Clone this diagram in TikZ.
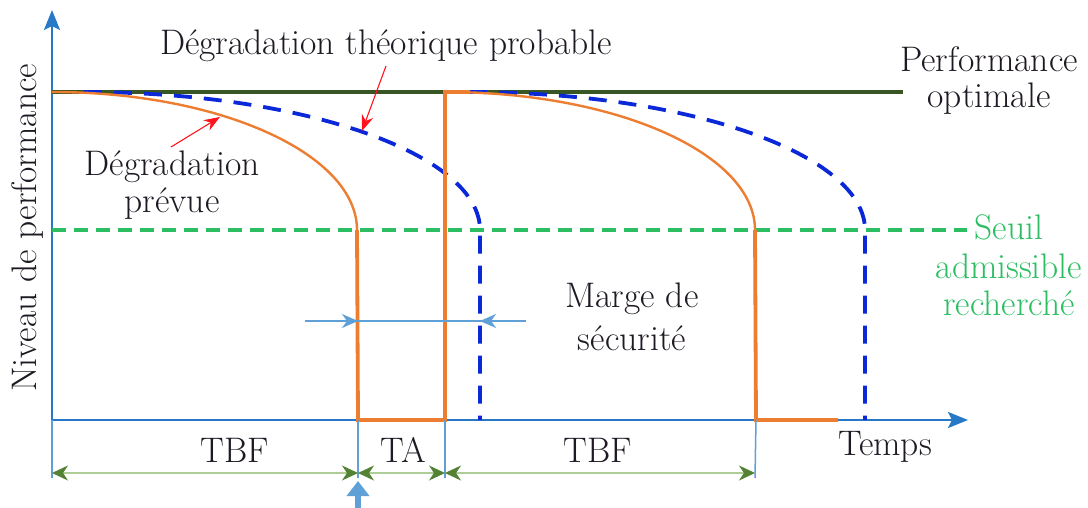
\documentclass[tikz,border=0pt]{standalone}
\usepackage{fontspec}
\usetikzlibrary{arrows.meta}
\definecolor{axblue}{RGB}{40,120,200}
\definecolor{lblue}{RGB}{95,160,215}
\definecolor{orng}{RGB}{237,125,49}
\definecolor{dblue}{RGB}{10,40,215}
\definecolor{dgreen}{RGB}{55,86,35}
\definecolor{thgreen}{RGB}{45,190,100}
\definecolor{dimgreen}{RGB}{84,130,53}
\definecolor{dimline}{RGB}{175,205,150}
\definecolor{txt}{RGB}{30,25,35}
\definecolor{redarr}{RGB}{255,20,30}
\begin{document}
\begin{tikzpicture}[x=1pt,y=-1pt,
  lbl/.style={inner sep=0pt,anchor=base,text=txt,font=\fontsize{35.5}{40}\selectfont},
  axisline/.style={draw=axblue,line width=2.6pt},
  tick/.style={draw=lblue,line width=1.5pt},
  curveo/.style={draw=orng,line width=2.4pt},
  recto/.style={draw=orng,line width=3.8pt},
  theo/.style={draw=dblue,line width=3.8pt,dash pattern=on 18pt off 12pt},
  seuil/.style={draw=thgreen,line width=3.2pt,dash pattern=on 14pt off 8pt},
  dimarr/.style={draw=dimline,line width=1.4pt,{Stealth[length=16pt,width=15pt,inset=5pt,color=dimgreen]}-{Stealth[length=16pt,width=15pt,inset=5pt,color=dimgreen]}},
  margarr/.style={draw=lblue,line width=1.6pt,-{Stealth[length=16pt,width=14pt,inset=5pt]}},
  redarrow/.style={draw=redarr,line width=1.1pt,-{Stealth[length=16pt,width=12pt]}}
]
\useasboundingbox (0,0) rectangle (1088,508);
% axes
\coordinate (O) at (52,420);
\coordinate (Ytop) at (52,10);
\coordinate (Xend) at (968,420);
\draw[axisline,-{Stealth[length=20pt,width=16pt,inset=4pt]}] (O) -- (Ytop);
\draw[axisline,-{Stealth[length=20pt,width=16pt,inset=4pt]}] (O) -- (Xend);
% optimal performance
\coordinate (opL) at (52,92);
\coordinate (opR) at (903,92);
\draw[draw=dgreen,line width=3.2pt] (opL) -- (opR);
% threshold
\coordinate (thL) at (52,230);
\coordinate (thR) at (967,230);
\draw[seuil] (thL) -- (thR);
% theoretical degradations (blue dashed)
\coordinate (b1s) at (84,92);
\coordinate (b1e) at (480,230);
\coordinate (b1b) at (480,420);
\draw[theo] (b1s) .. controls (303,92) and (480,154) .. (b1e) -- (b1b);
\coordinate (b2s) at (469,92);
\coordinate (b2e) at (865,230);
\coordinate (b2b) at (865,420);
\draw[theo] (b2s) .. controls (688,92) and (865,154) .. (b2e) -- (b2b);
% planned degradation (orange)
\coordinate (o1s) at (52,92);
\coordinate (o1e) at (357,230);
\coordinate (o1b) at (358,420);
\coordinate (o1r) at (445,420);
\coordinate (o2s) at (445,92);
\coordinate (o2e) at (755,230);
\coordinate (o2b) at (756,420);
\coordinate (o2r) at (838,420);
\draw[curveo] (o1s) .. controls (220,92) and (357,154) .. (o1e);
\draw[recto] (o1e) -- (o1b) -- (o1r) -- (o2s) -- (470,92);
\draw[curveo] (o2s) .. controls (617,92) and (755,154) .. (o2e);
\draw[recto] (o2e) -- (o2b) -- (o2r);
% safety margin
\coordinate (mL) at (305,321);
\coordinate (mR) at (526,321);
\coordinate (mA) at (358,321);
\coordinate (mB) at (480,321);
\draw[draw=lblue,line width=1.6pt] (mL) -- (mR);
\draw[margarr] (mL) -- (mA);
\draw[margarr] (mR) -- (mB);
\node[lbl] (marge1) at (632,307) {Marge de};
\node[lbl] (marge2) at (632,350) {sécurité};
% ticks below the axis
\coordinate (t0) at (52,478);
\coordinate (t1) at (358,478);
\coordinate (t2) at (445,478);
\coordinate (t3) at (755,478);
\draw[tick] (O) -- (t0);
\draw[tick] (o1b) -- (t1);
\draw[tick] (o1r) -- (t2);
\draw[tick] (o2b) -- (t3);
% dimension arrows
\coordinate (d0) at (52,473);
\coordinate (d1) at (358,473);
\coordinate (d2) at (445,473);
\coordinate (d3) at (755,473);
\draw[dimarr] (d0) -- (d1);
\draw[dimarr] (d1) -- (d2);
\draw[dimarr] (d2) -- (d3);
\node[lbl] (tbf1) at (235,462) {TBF};
\node[lbl] (ta) at (403,462) {TA};
\node[lbl] (tbf2) at (598,462) {TBF};
\node[lbl] (temps) at (885,455) {Temps};
% intervention arrow
\coordinate (upS) at (358,512);
\coordinate (upE) at (358,481);
\draw[draw=lblue,line width=6pt,-{Triangle[length=15pt,width=22pt]}] (upS) -- (upE);
% labels
\node[lbl] (theolbl) at (386,55) {Dégradation théorique probable};
\coordinate (r1s) at (386,66);
\coordinate (r1e) at (362,131);
\draw[redarrow] (r1s) -- (r1e);
\node[lbl] (prev1) at (172,176) {Dégradation};
\node[lbl] (prev2) at (172,213) {prévue};
\coordinate (r2s) at (171,147);
\coordinate (r2e) at (220,117);
\draw[redarrow] (r2s) -- (r2e);
\node[lbl] (perf1) at (989,72) {Performance};
\node[lbl] (perf2) at (989,108) {optimale};
\node[lbl,text=thgreen] (seuil1) at (1009,240) {Seuil};
\node[lbl,text=thgreen] (seuil2) at (1009,278) {admissible};
\node[lbl,text=thgreen] (seuil3) at (1009,315) {recherché};
\node[lbl,rotate=90] (ylbl) at (36,228) {Niveau de performance};
\end{tikzpicture}
\end{document}
